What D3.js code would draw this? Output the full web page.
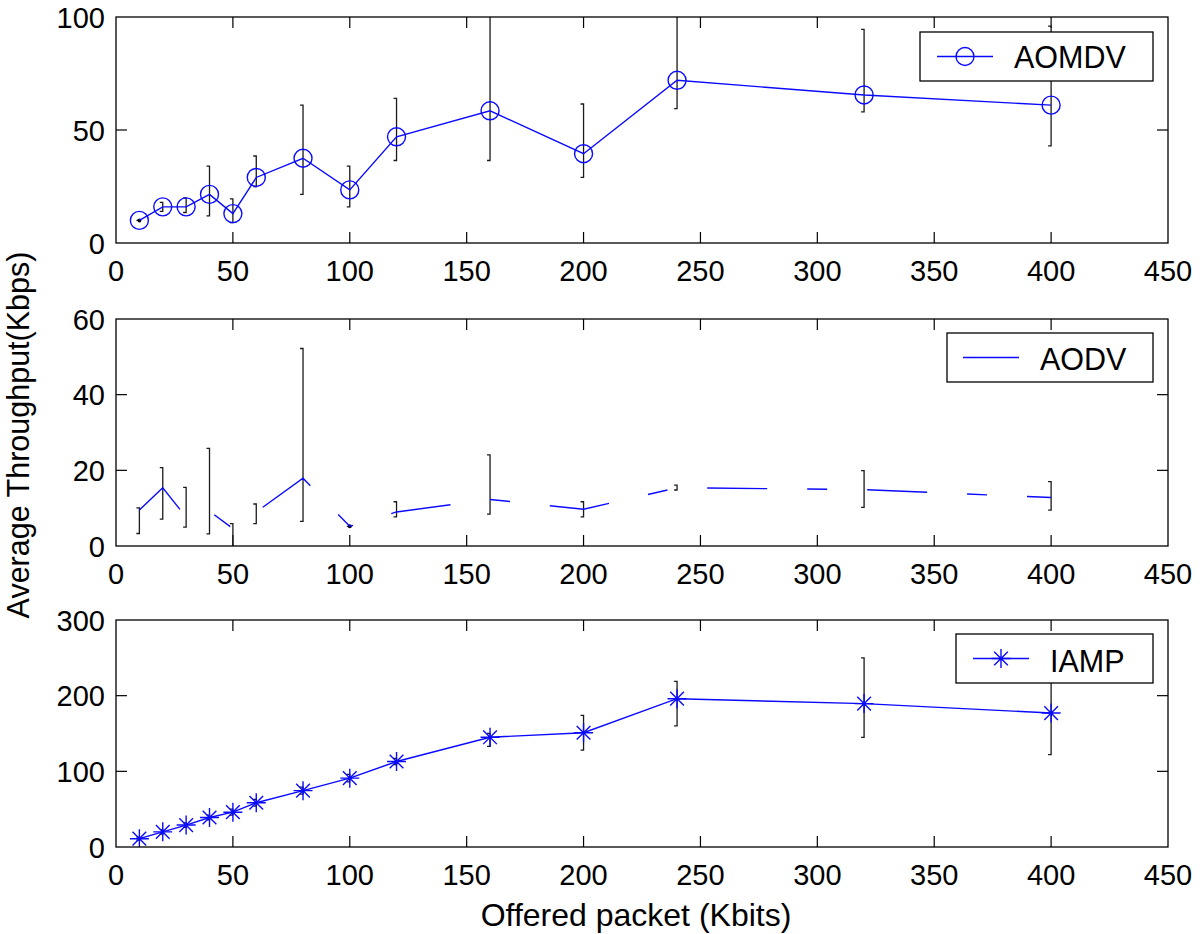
<!DOCTYPE html>
<html>
<head>
<meta charset="utf-8">
<script src="https://cdn.jsdelivr.net/npm/d3@7/dist/d3.min.js"></script>
<style>
  html, body { margin: 0; padding: 0; background: #fff; }
  svg { display: block; }
  text { font-family: "Liberation Sans", Arial, Helvetica, sans-serif; fill: #000; }
</style>
</head>
<body>
<svg id="chart" width="1200" height="934"></svg>
<script>
// ---------- data ----------
const offered = [10, 20, 30, 40, 50, 60, 80, 100, 120, 160, 200, 240, 320, 400];

const aomdvMean = [10, 16, 16, 21.5, 13, 29, 37.5, 23.5, 47, 58.5, 39.5, 72, 65.5, 61];
const aomdvLow  = [10, 14, 13.5, 12, 9, 25, 21.5, 16, 36.5, 36.5, 29, 59.5, 58, 43];
const aomdvHigh = [10, 18, 20, 34, 19.5, 38.5, 61, 34, 64, 106, 61.5, 106, 94.5, 96];

const aodvMean = [9.5, 15.4, 7.6, 9.2, 4.6, 9, 17.9, 5.2, 9, 12.3, 9.7, 15.4, 14.9, 12.8];
const aodvLow  = [3.3, 7.1, 5, 3.2, -2, 5.9, 6.5, 5.2, 7.7, 8.4, 7.7, 14.8, 10.2, 9.5];
const aodvHigh = [10.1, 20.7, 15.5, 25.8, 5.9, 11.1, 52.2, 5.2, 11.7, 24.1, 11.7, 16.1, 19.9, 17];

const iampMean = [11, 20, 29, 39, 46, 58.5, 74.5, 91, 113, 145, 151, 196, 189.5, 177];
const iampLow  = [9, 17, 26, 36, 42, 54, 70, 86, 109, 133, 128, 160, 145, 122];
const iampHigh = [13, 23, 32, 42, 50, 63, 79, 96, 117, 150, 174, 219, 250, 231];

const xTicks = [0, 50, 100, 150, 200, 250, 300, 350, 400, 450];
const yTicksTop = [0, 50, 100];
const yTicksMid = [0, 20, 40, 60];
const yTicksBot = [0, 100, 200, 300];

const seriesNames = ["AOMDV", "AODV", "IAMP"];
const xLabel = "Offered packet (Kbits)";
const yLabel = "Average Throughput(Kbps)";

// ---------- layout ----------
const svg = d3.select("#chart");
const left = 116, right = 1168;
const BLUE = "#0a0aff";
const ERR = "#1a1a1a";

const x = d3.scaleLinear().domain([0, 450]).range([left, right]);

const panels = [
  { top: 17,  bottom: 243, domain: [0, 100], ticks: yTicksTop, mean: aomdvMean, low: aomdvLow, high: aomdvHigh, marker: "circle", dashed: false,
    legend: { x0: 920, x1: 1153, y0: 32, y1: 81, lx0: 937, lx1: 993, tx: 1014, ty: 68 } },
  { top: 319, bottom: 546, domain: [0, 60], ticks: yTicksMid, mean: aodvMean, low: aodvLow, high: aodvHigh, marker: "none", dashed: true,
    legend: { x0: 947, x1: 1153, y0: 333, y1: 382, lx0: 963, lx1: 1019, tx: 1040, ty: 370 } },
  { top: 620, bottom: 847, domain: [0, 300], ticks: yTicksBot, mean: iampMean, low: iampLow, high: iampHigh, marker: "star", dashed: false,
    legend: { x0: 956, x1: 1153, y0: 634, y1: 683, lx0: 973, lx1: 1029, tx: 1050, ty: 672 } }
];

function drawStar(g, cx, cy, s) {
  const d = s * 0.72;
  const p = `M${cx - s},${cy}L${cx + s},${cy}M${cx},${cy - s}L${cx},${cy + s}` +
            `M${cx - d},${cy - d}L${cx + d},${cy + d}M${cx - d},${cy + d}L${cx + d},${cy - d}`;
  g.append("path").attr("d", p).attr("stroke", BLUE).attr("stroke-width", 1.4).attr("fill", "none");
}

panels.forEach((p, i) => {
  const y = d3.scaleLinear().domain(p.domain).range([p.bottom, p.top]);
  const g = svg.append("g");
  const clipId = "clip" + i;
  svg.append("clipPath").attr("id", clipId)
    .append("rect").attr("x", left).attr("y", p.top).attr("width", right - left).attr("height", p.bottom - p.top);

  // ticks (inward, all four sides)
  const tl = 11;
  const axisStyle = sel => sel.attr("stroke", "#000").attr("stroke-width", 1.2);
  xTicks.forEach(t => {
    const xx = x(t);
    if (t !== 0 && t !== 450) {
      g.append("line").attr("x1", xx).attr("x2", xx).attr("y1", p.bottom).attr("y2", p.bottom - tl).call(axisStyle);
      g.append("line").attr("x1", xx).attr("x2", xx).attr("y1", p.top).attr("y2", p.top + tl).call(axisStyle);
    }
    g.append("text").attr("x", xx).attr("y", p.bottom + 38).attr("text-anchor", "middle")
      .attr("font-size", 29).text(t);
  });
  p.ticks.forEach((t, k) => {
    const yy = y(t);
    if (k !== 0 && k !== p.ticks.length - 1) {
      g.append("line").attr("x1", left).attr("x2", left + tl).attr("y1", yy).attr("y2", yy).call(axisStyle);
      g.append("line").attr("x1", right).attr("x2", right - tl).attr("y1", yy).attr("y2", yy).call(axisStyle);
    }
    g.append("text").attr("x", left - 11).attr("y", yy + 10.5).attr("text-anchor", "end")
      .attr("font-size", 29).text(t);
  });

  const plot = g.append("g").attr("clip-path", `url(#${clipId})`);

  // error bars
  offered.forEach((xv, k) => {
    const xx = x(xv), y1 = y(p.low[k]), y2 = y(p.high[k]);
    const cap = 3;
    const d = `M${xx - cap},${y2}L${xx},${y2}L${xx},${y1}L${xx - cap},${y1}`;
    plot.append("path").attr("d", d).attr("fill", "none").attr("stroke", ERR).attr("stroke-width", 1.3);
    if (p.low[k] === p.high[k]) {
      plot.append("circle").attr("cx", xx).attr("cy", y1).attr("r", 2).attr("fill", "#000");
    }
  });

  // data line
  const line = d3.line().x((d, k) => x(offered[k])).y(d => y(d));
  const path = plot.append("path").attr("d", line(p.mean)).attr("fill", "none")
    .attr("stroke", BLUE).attr("stroke-width", 1.4);
  if (p.dashed) path.attr("stroke-dasharray", "60 40 20 40");

  // markers
  p.mean.forEach((v, k) => {
    if (p.marker === "circle") {
      plot.append("circle").attr("cx", x(offered[k])).attr("cy", y(v)).attr("r", 9)
        .attr("fill", "none").attr("stroke", BLUE).attr("stroke-width", 1.4);
    } else if (p.marker === "star") {
      drawStar(plot, x(offered[k]), y(v), 9.5);
    }
  });

  // box
  g.append("rect").attr("x", left).attr("y", p.top).attr("width", right - left).attr("height", p.bottom - p.top)
    .attr("fill", "none").attr("stroke", "#000").attr("stroke-width", 1.3);

  // legend
  const L = p.legend;
  g.append("rect").attr("x", L.x0).attr("y", L.y0).attr("width", L.x1 - L.x0).attr("height", L.y1 - L.y0)
    .attr("fill", "#fff").attr("stroke", "#000").attr("stroke-width", 1.3);
  const ly = (L.y0 + L.y1) / 2;
  g.append("line").attr("x1", L.lx0).attr("x2", L.lx1).attr("y1", ly).attr("y2", ly)
    .attr("stroke", BLUE).attr("stroke-width", 1.4);
  const lmx = (L.lx0 + L.lx1) / 2;
  if (p.marker === "circle") {
    g.append("circle").attr("cx", lmx).attr("cy", ly).attr("r", 9).attr("fill", "none")
      .attr("stroke", BLUE).attr("stroke-width", 1.4);
  } else if (p.marker === "star") {
    drawStar(g, lmx, ly, 9.5);
  }
  g.append("text").attr("x", L.tx).attr("y", L.ty).attr("font-size", 30.5).text(seriesNames[i]);
});

// axis labels
svg.append("text").attr("x", 636).attr("y", 926).attr("text-anchor", "middle")
  .attr("font-size", 32).text(xLabel);
svg.append("text").attr("transform", "translate(29,435) rotate(-90)").attr("text-anchor", "middle")
  .attr("font-size", 30.5).text(yLabel);
</script>
</body>
</html>
